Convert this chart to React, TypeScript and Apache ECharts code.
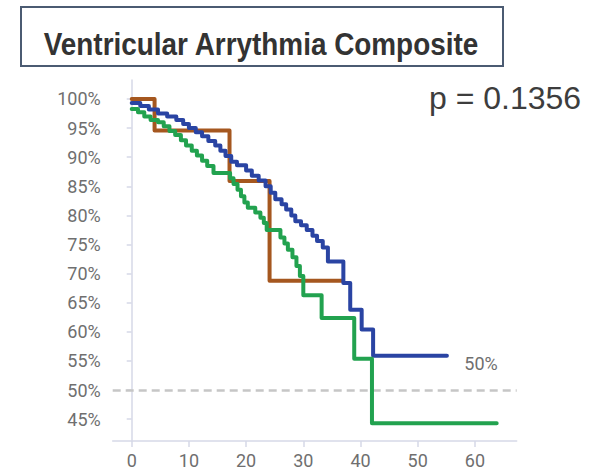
import React, { useEffect, useRef } from 'react';
import * as echarts from 'echarts';

// Kaplan–Meier style survival curves, one [months, percent] pair per step
const titleText = 'Ventricular Arrythmia Composite';
const pValueText = 'p = 0.1356';

const xTicks = [0, 10, 20, 30, 40, 50, 60];
const yTicks = [45, 50, 55, 60, 65, 70, 75, 80, 85, 90, 95, 100];
const referenceLevel = 50;

const brownCurve: [number, number][] = [
  [0, 100], [4.0, 94.6], [17.1, 85.9], [24.1, 68.8], [36.9, 68.8],
];

const blueCurve: [number, number][] = [
  [0, 99.3], [1.5, 98.8], [3.0, 98.2], [4.6, 97.5], [6.2, 97.0], [7.8, 96.4],
  [9.0, 95.7], [10.0, 95.0], [11.2, 94.3], [12.3, 93.6], [13.4, 92.8],
  [14.6, 92.0], [15.5, 91.1], [16.4, 90.2], [17.4, 89.2], [18.4, 88.6],
  [20.0, 87.7], [21.0, 86.8], [22.2, 86.0], [23.4, 85.0], [24.3, 83.9],
  [25.1, 82.8], [26.2, 81.9], [27.0, 81.0], [27.9, 80.0], [28.6, 79.0],
  [29.6, 78.3], [30.6, 77.5], [31.6, 76.5], [32.4, 75.6], [33.4, 74.5],
  [34.3, 72.1], [37.0, 68.4], [38.2, 63.8], [40.2, 60.4], [42.2, 55.9],
  [55.1, 55.9],
];

const greenCurve: [number, number][] = [
  [0, 98.3], [1.1, 97.7], [2.2, 97.0], [3.3, 96.4], [4.6, 96.0], [5.6, 95.3],
  [6.6, 94.5], [7.6, 93.8], [8.6, 92.9], [9.5, 92.0], [10.5, 91.1],
  [11.4, 90.3], [12.3, 89.4], [13.2, 88.5], [14.3, 87.3], [17.2, 86.4],
  [17.8, 85.4], [18.5, 84.4], [19.1, 83.3], [19.7, 82.2], [20.3, 81.3],
  [21.6, 80.5], [22.5, 79.6], [23.1, 78.7], [23.6, 77.5], [26.0, 76.2],
  [26.7, 75.2], [27.3, 74.1], [28.1, 72.8], [28.8, 71.3], [29.4, 69.6],
  [30.0, 66.3], [33.2, 62.4], [38.9, 55.4], [42.0, 44.3], [63.8, 44.3],
];

const AXIS_COLOR = '#d6d9e7';
const LABEL_COLOR = '#6f6f6f';
const LABEL_FONT = 'Roboto';

export default function App() {
  const ref = useRef<HTMLDivElement>(null);

  useEffect(() => {
    if (!ref.current) return;
    const chart = echarts.init(ref.current, undefined, { renderer: 'svg' });

    const curve = (data: [number, number][], color: string, z: number) => ({
      type: 'line',
      step: 'end',
      data,
      symbol: 'none',
      z,
      lineStyle: { color, width: 4, join: 'round', cap: 'round' },
      silent: true,
    });

    chart.setOption({
      animation: false,
      backgroundColor: '#ffffff',
      grid: { left: 112.7, right: 82.3, top: 80, bottom: 27.3 },
      xAxis: {
        type: 'value',
        min: -3.32,
        max: 67.3,
        axisLine: { show: true, onZero: false, lineStyle: { color: AXIS_COLOR, width: 1.5 } },
        axisTick: { show: true, customValues: xTicks, length: 6, lineStyle: { color: AXIS_COLOR, width: 1.5 } },
        axisLabel: {
          customValues: xTicks,
          color: LABEL_COLOR,
          fontFamily: LABEL_FONT,
          fontSize: 18,
          margin: 10,
        },
        splitLine: { show: false },
      },
      yAxis: {
        type: 'value',
        min: 41.26,
        max: 103.26,
        axisLine: { show: true, lineStyle: { color: AXIS_COLOR, width: 1.5 } },
        axisTick: { show: true, customValues: yTicks, length: 5, lineStyle: { color: AXIS_COLOR, width: 1.5 } },
        axisLabel: {
          customValues: yTicks,
          formatter: '{value}%',
          color: LABEL_COLOR,
          fontFamily: LABEL_FONT,
          fontSize: 18,
          margin: 12,
        },
        splitLine: { show: false },
      },
      series: [
        {
          ...curve(brownCurve, '#a5571f', 2),
          markLine: {
            silent: true,
            symbol: 'none',
            z: 1,
            lineStyle: { type: [8, 5], color: '#c6c6c6', width: 2.5 },
            label: {
              show: true,
              formatter: `${referenceLevel}%`,
              position: 'insideEndTop',
              distance: [19, 18],
              color: LABEL_COLOR,
              fontFamily: LABEL_FONT,
              fontSize: 18,
            },
            data: [{ yAxis: referenceLevel }],
          },
        },
        curve(blueCurve, '#2a44a3', 3),
        curve(greenCurve, '#22a24f', 4),
      ],
      graphic: [
        {
          type: 'rect',
          shape: { x: 21, y: 7, width: 482, height: 59 },
          style: { fill: 'none', stroke: '#4b5b72', lineWidth: 2 },
        },
        {
          type: 'text',
          x: 261,
          y: 43.5,
          scaleX: 0.9,
          style: {
            text: titleText,
            fontFamily: '"Liberation Sans", Arial, sans-serif',
            fontWeight: 'bold',
            fontSize: 31,
            fill: '#333333',
            align: 'center',
            verticalAlign: 'middle',
          },
        },
        {
          type: 'text',
          x: 429,
          y: 98,
          style: {
            text: pValueText,
            fontFamily: '"Liberation Sans", Arial, sans-serif',
            fontSize: 32,
            fill: '#3d3d3d',
            align: 'left',
            verticalAlign: 'middle',
          },
        },
      ],
    });

    return () => chart.dispose();
  }, []);

  return (
    <div
      ref={ref}
      style={{ position: 'fixed', left: 0, top: 0, width: 599, height: 469 }}
    />
  );
}
